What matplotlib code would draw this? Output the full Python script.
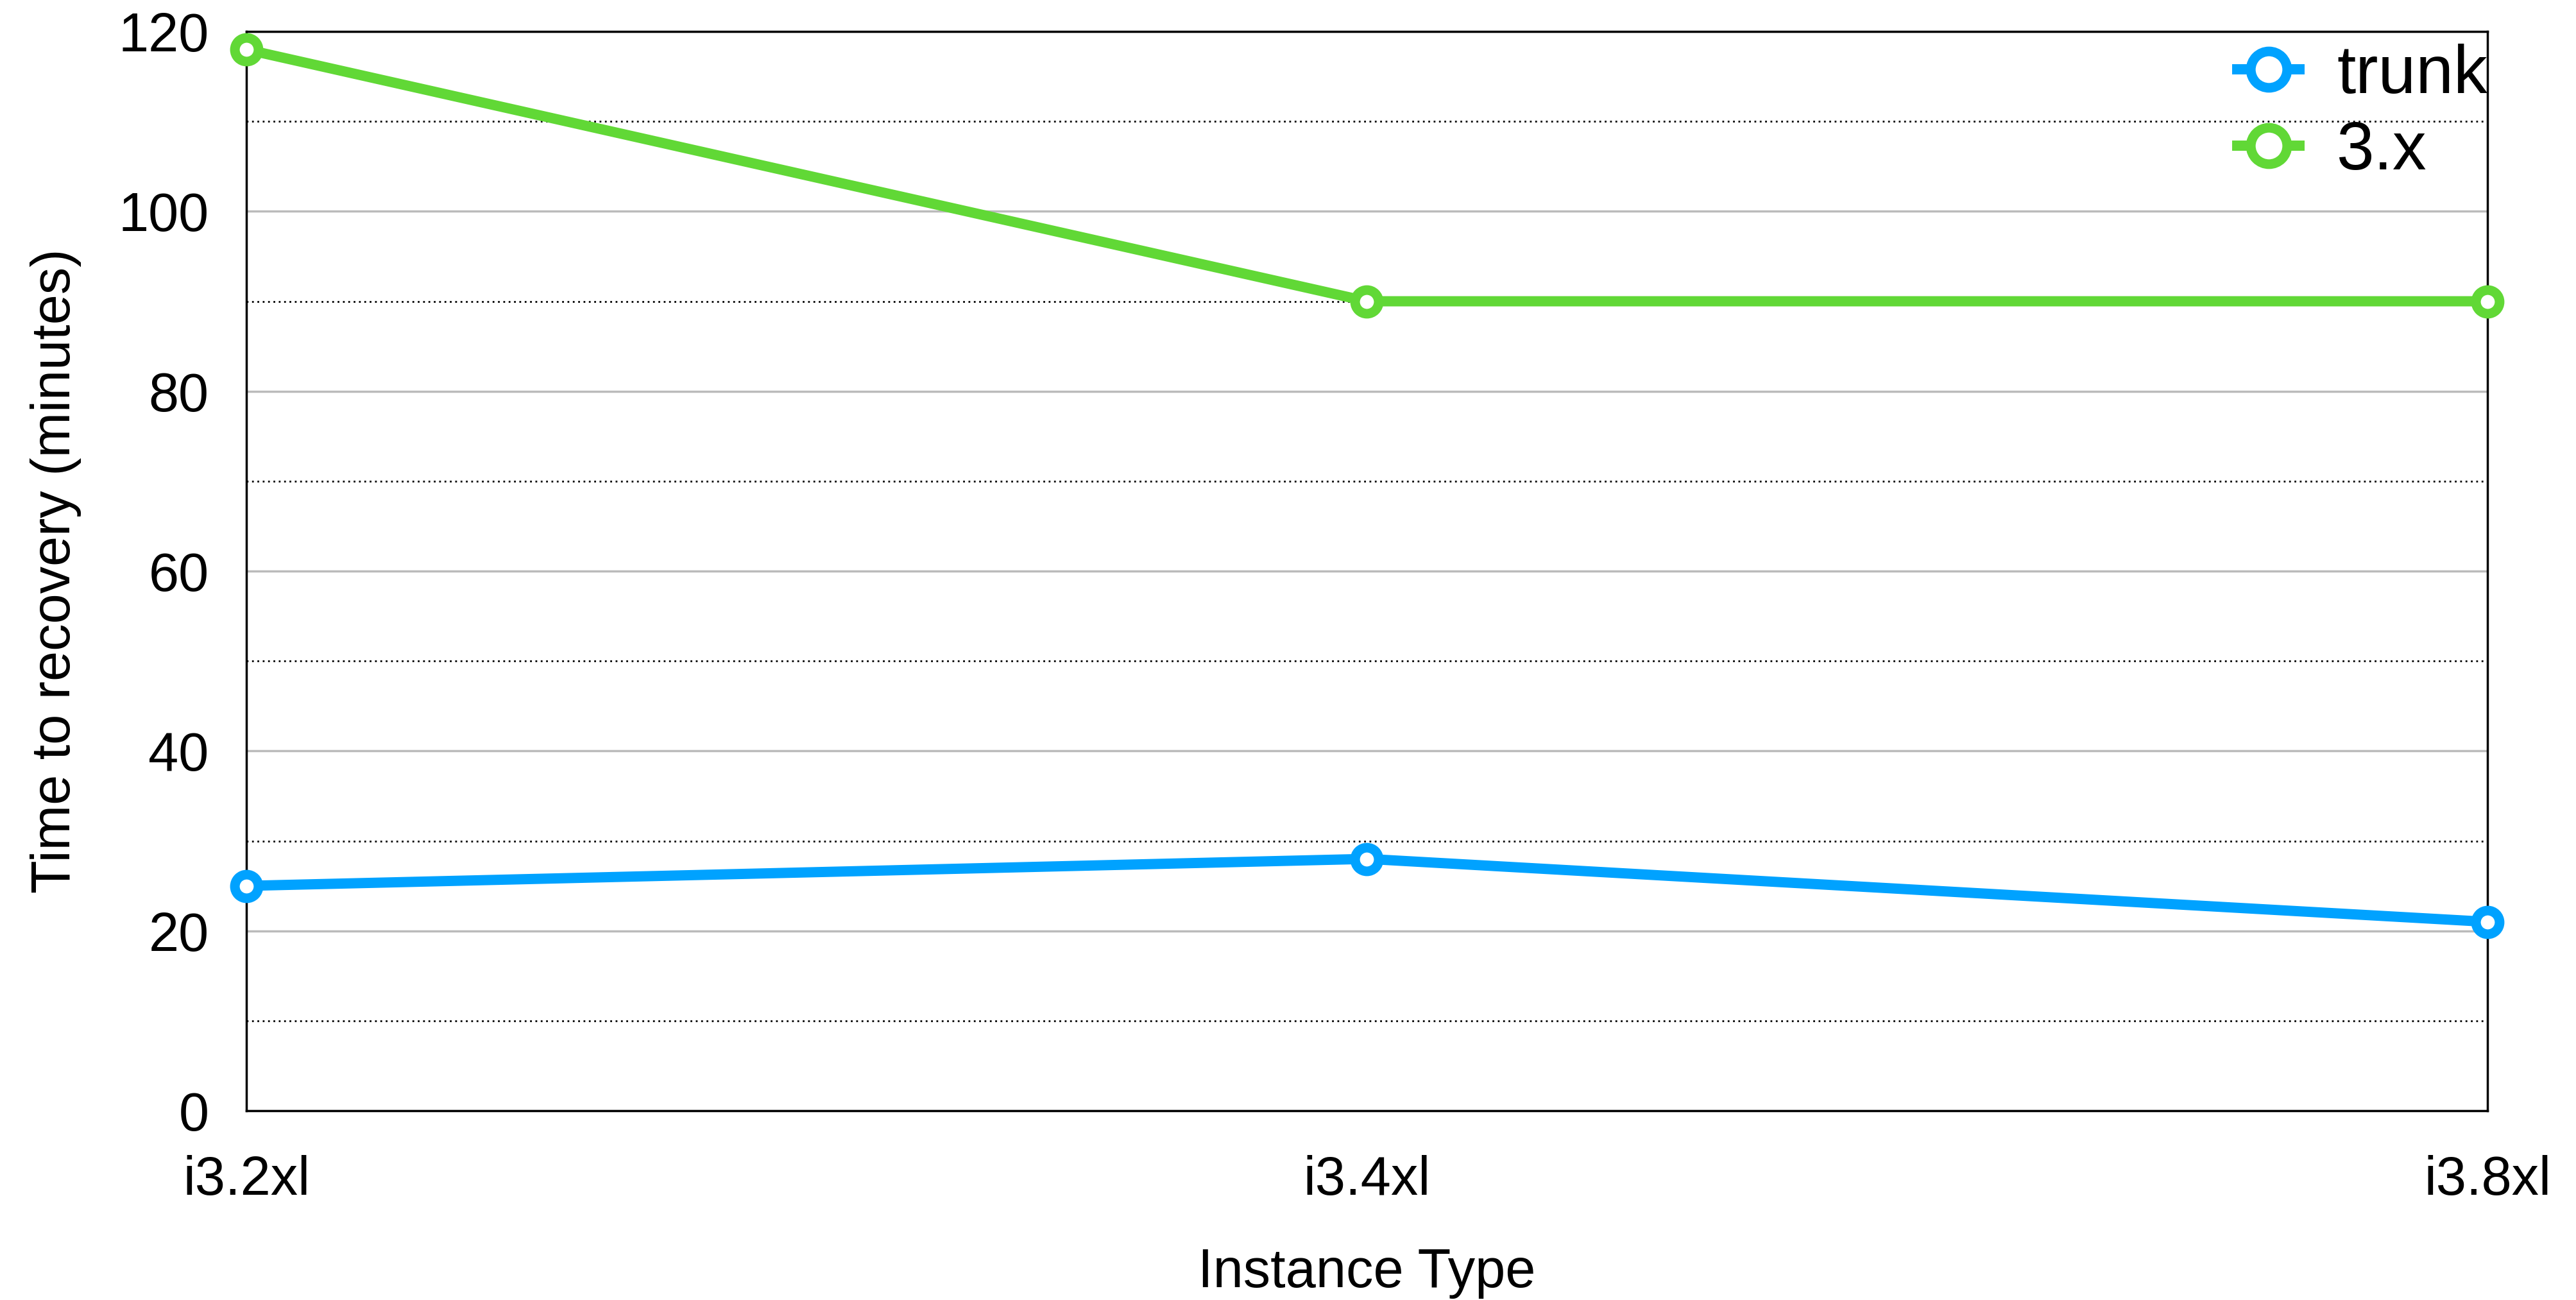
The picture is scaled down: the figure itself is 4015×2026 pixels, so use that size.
import matplotlib
matplotlib.use("Agg")
import matplotlib.pyplot as plt
from matplotlib.ticker import MultipleLocator

plt.rcParams['font.family'] = ['Liberation Sans', 'DejaVu Sans']

categories = ["i3.2xl", "i3.4xl", "i3.8xl"]
trunk = [25, 28, 21]
v3x = [118, 90, 90]
yticks = [0, 20, 40, 60, 80, 100, 120]

BLUE = "#00A2FF"
GREEN = "#61D836"

fig = plt.figure(figsize=(40.16, 20.26), dpi=100)
ax = fig.add_axes([0.0956, 0.1456, 0.8698, 0.8302])

x = list(range(len(categories)))
for vals, col, lab in [(trunk, BLUE, "trunk"), (v3x, GREEN, "3.x")]:
    ax.plot(x, vals, color=col, lw=11.5, marker='o', markersize=26.5,
            markerfacecolor='white', markeredgecolor=col, markeredgewidth=10.8,
            label=lab, clip_on=False, zorder=5)

ax.set_xlim(0, len(categories) - 1)
ax.set_ylim(0, 120)
ax.set_xticks(x)
ax.set_xticklabels(categories)
ax.set_yticks(yticks)
ax.yaxis.set_minor_locator(MultipleLocator(10))

ax.grid(axis='y', which='major', color='#BBBBBB', lw=2.5, ls='-')
ax.grid(axis='y', which='minor', color='black', lw=2.0, ls=(0, (1, 2)))
ax.set_axisbelow(True)

for s in ax.spines.values():
    s.set_linewidth(2.5)
    s.set_zorder(3)

ax.tick_params(axis='both', which='both', length=0, labelsize=61)
ax.tick_params(axis='x', pad=50)
ax.tick_params(axis='y', pad=42)

ax.set_xlabel("Instance Type", fontsize=61, labelpad=46)
ax.set_ylabel("Time to recovery (minutes)", fontsize=61, labelpad=41)

leg = ax.legend(loc='upper right', bbox_to_anchor=(1.0, 0.989), frameon=False,
                fontsize=76, handlelength=0.92, handletextpad=0.55,
                markerscale=1.54, borderaxespad=0.0, borderpad=0.0,
                labelspacing=0.19)

fig.savefig("out.png", dpi=100)
